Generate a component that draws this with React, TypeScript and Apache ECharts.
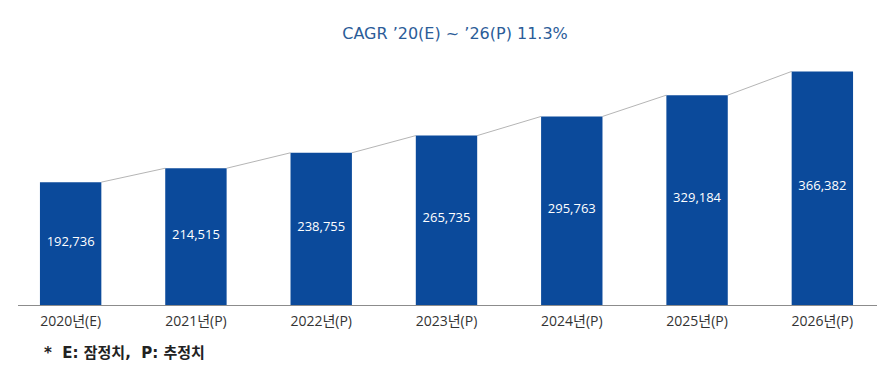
import React, { useEffect, useRef } from "react";
import * as echarts from "echarts";

const categories = ["2020년(E)", "2021년(P)", "2022년(P)", "2023년(P)", "2024년(P)", "2025년(P)", "2026년(P)"];
const values = [192736, 214515, 238755, 265735, 295763, 329184, 366382];
const titleText = "CAGR \u201920(E) ~ \u201926(P) 11.3%";
const footnote = "*  E: 잠정치,  P: 추정치";

const BAR_RATIO = 0.49;

export default function App() {
  const ref = useRef<HTMLDivElement>(null);
  useEffect(() => {
    if (!ref.current) return;
    const chart = echarts.init(ref.current, null, { renderer: "svg" });
    const font = "'Open Sans', 'Noto Sans CJK KR', sans-serif";
    const wide = "'DejaVu Sans', 'Noto Sans CJK KR', sans-serif";
    chart.setOption({
      animation: false,
      backgroundColor: "#ffffff",
      title: {
        text: titleText,
        left: 450,
        textAlign: "center",
        top: 20,
        textStyle: { color: "#2b5c98", fontSize: 16, fontWeight: "normal", fontFamily: wide },
      },
      grid: { left: 8, right: 2, top: 50, bottom: 75 },
      xAxis: {
        type: "category",
        data: categories,
        axisLine: { show: false },
        axisTick: { show: false },
        axisLabel: { color: "#333", fontSize: 14, margin: 8, fontFamily: font },
      },
      yAxis: {
        type: "value",
        min: 0,
        max: 400000,
        show: false,
        splitLine: { show: false },
      },
      graphic: [
        {
          type: "line",
          shape: { x1: 18, y1: 305.5, x2: 877, y2: 305.5 },
          style: { stroke: "#8c8c8c", lineWidth: 1 },
          z: 10,
        },
        {
          type: "text",
          left: 44,
          top: 345,
          style: { text: footnote, fill: "#222", fontSize: 15, fontWeight: 600, fontFamily: wide },
        },
      ],
      series: [
        {
          type: "bar",
          data: values,
          barWidth: (BAR_RATIO * 100) + "%",
          itemStyle: { color: "#0b4a9b" },
          label: {
            show: true,
            position: "inside",
            color: "#ffffff",
            fontSize: 13,
            fontFamily: font,
            offset: [0, -3],
            formatter: (p: any) => Number(p.value).toLocaleString("en-US"),
          },
        },
        {
          type: "custom",
          data: values.slice(0, -1).map((v, i) => [i, v, values[i + 1]]),
          renderItem: (params: any, api: any) => {
            const i = api.value(0);
            const p1 = api.coord([i, api.value(1)]);
            const p2 = api.coord([i + 1, api.value(2)]);
            const half = (api.size([1, 0])[0] * BAR_RATIO) / 2;
            return {
              type: "line",
              shape: { x1: p1[0] + half, y1: p1[1], x2: p2[0] - half, y2: p2[1] },
              style: { stroke: "#b5b5b5", lineWidth: 1 },
            };
          },
          z: 1,
        },
      ],
    });
    return () => chart.dispose();
  }, []);
  return <div ref={ref} style={{ width: 887, height: 380, margin: -8 }} />;
}
